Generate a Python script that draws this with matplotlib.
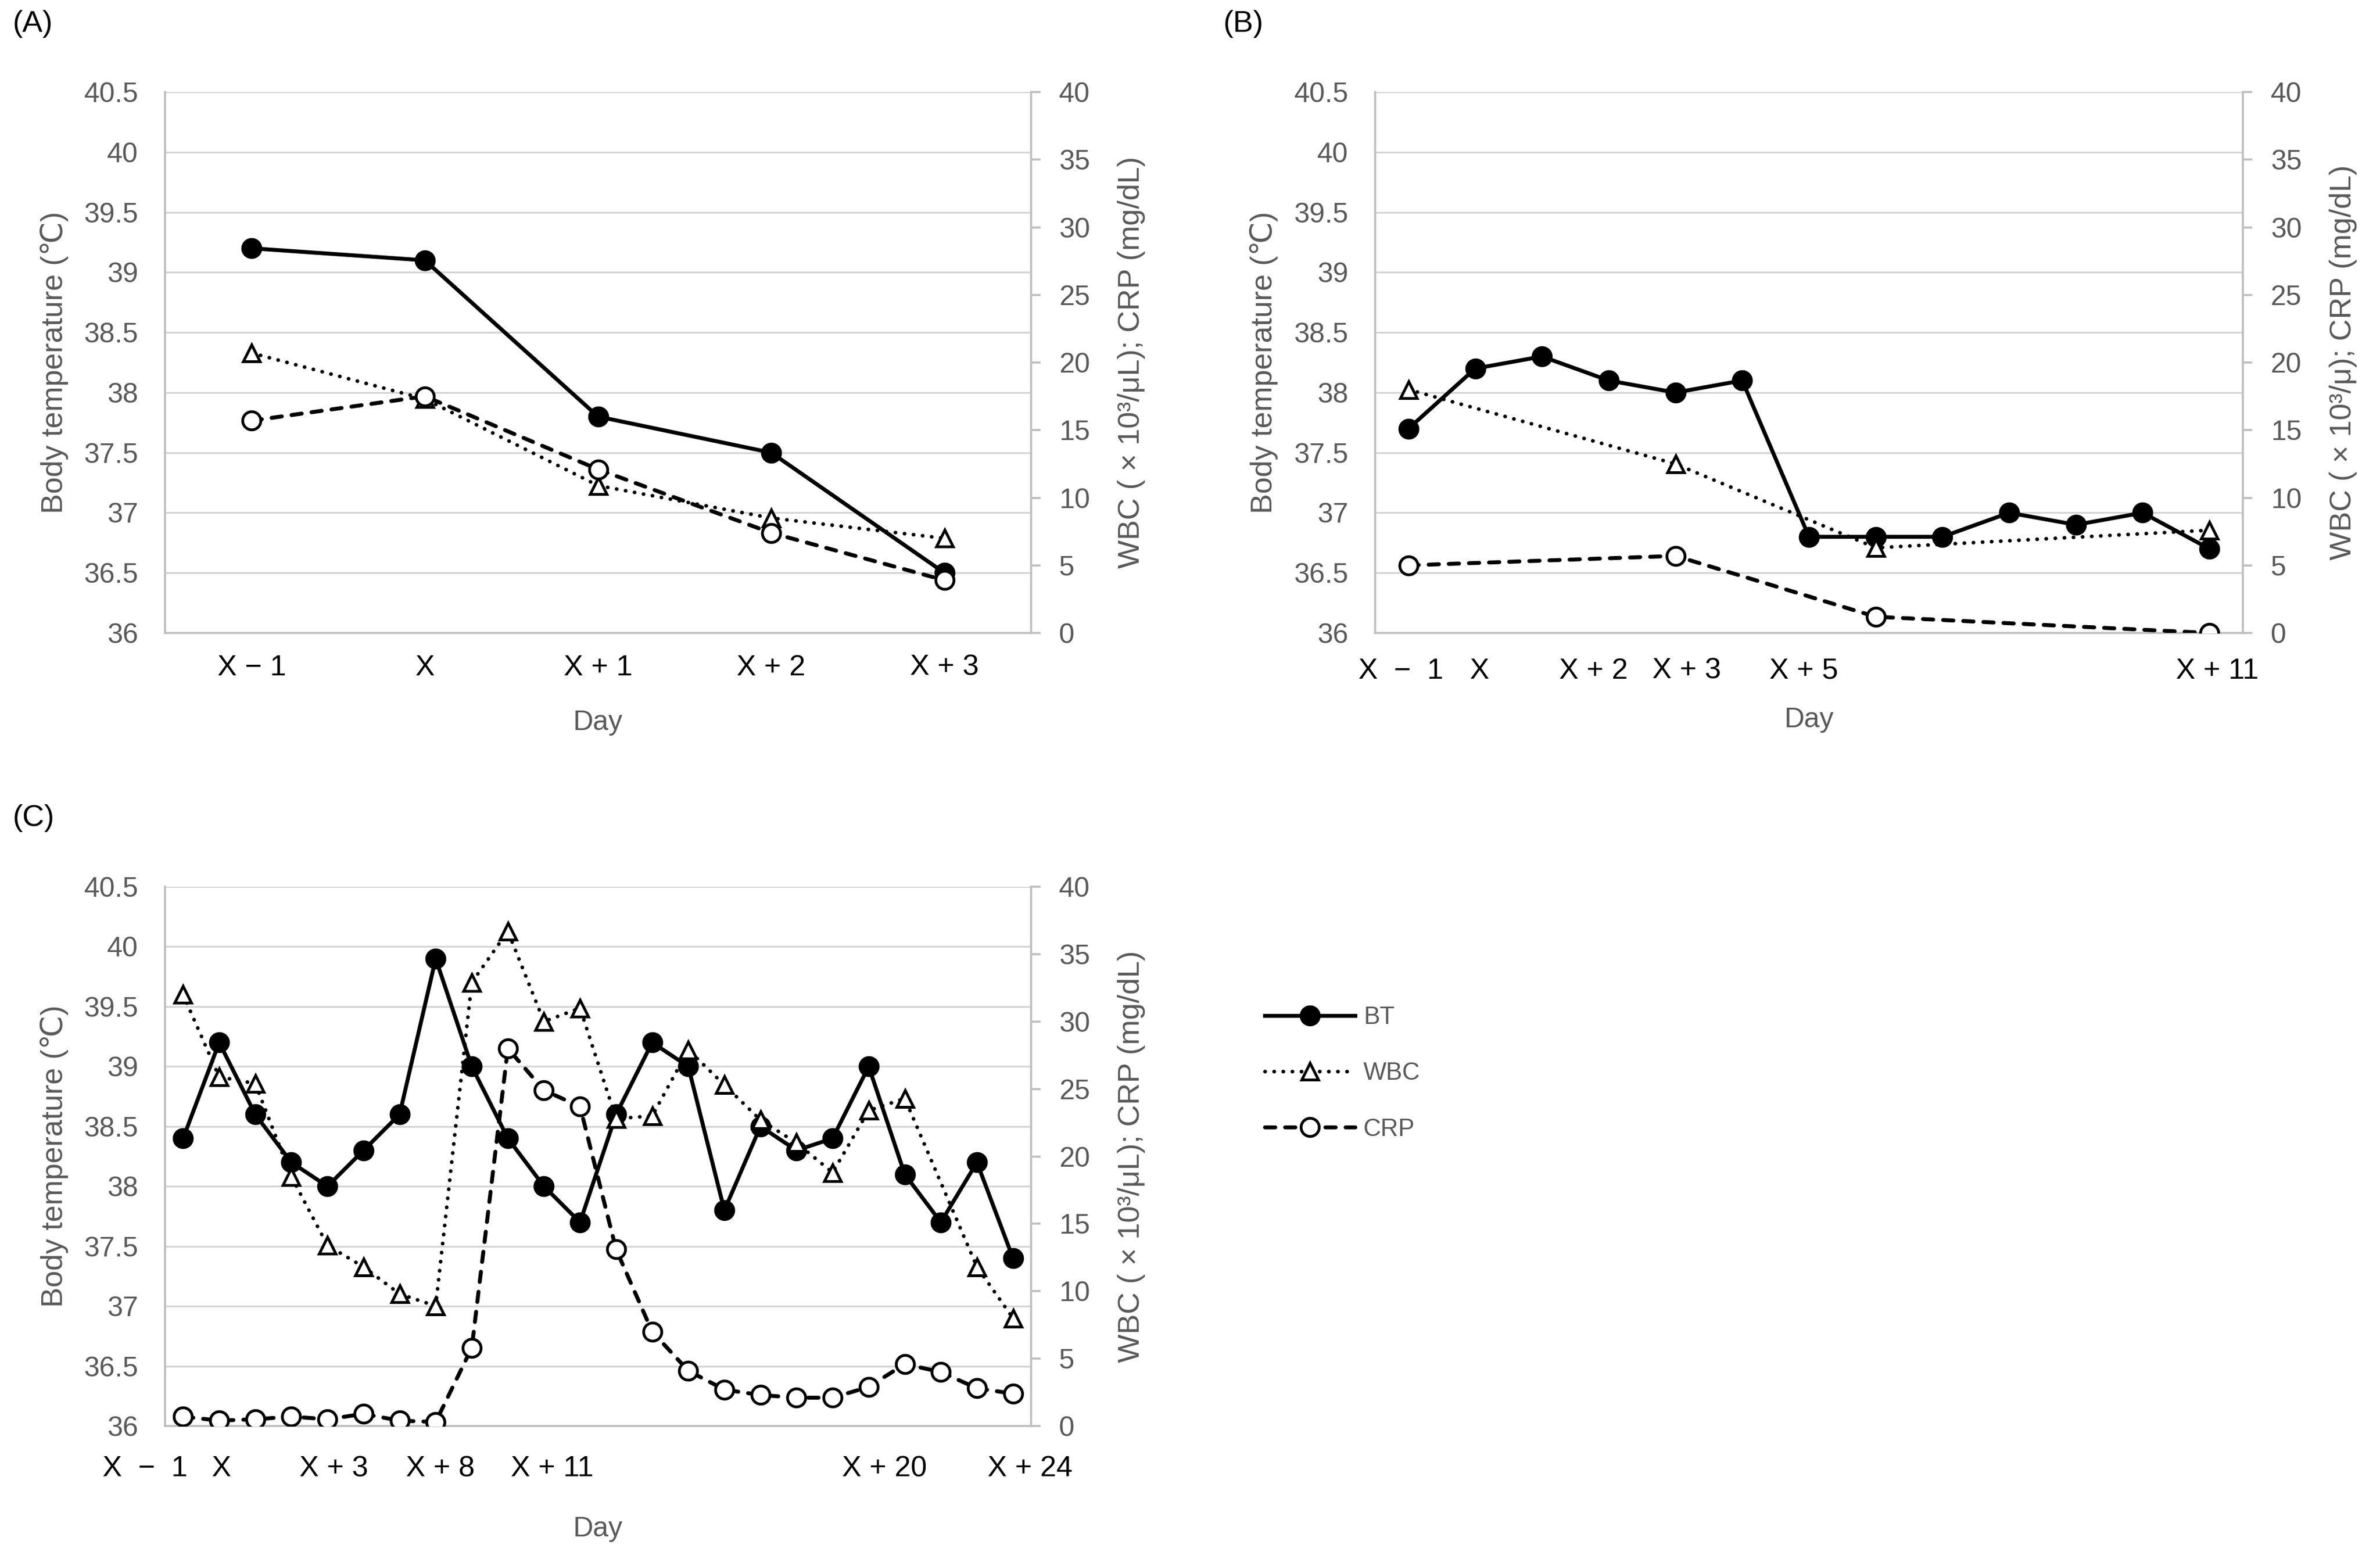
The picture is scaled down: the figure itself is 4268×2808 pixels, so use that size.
import numpy as np
import matplotlib
matplotlib.use('Agg')
import matplotlib.pyplot as plt
import matplotlib.transforms as mtransforms

plt.rcParams['font.family'] = ['Liberation Sans', 'DejaVu Sans']

nan = np.nan
GREY = '#595959'
AXIS = '#bfbfbf'

# ---- data ----
# (A)
ticks_a = [0, 1, 2, 3, 4]
labels_a = ['X − 1', 'X', 'X + 1', 'X + 2', 'X + 3']
bt_a = [39.2, 39.1, 37.8, 37.5, 36.5]
wbc_a = [20.7, 17.3, 10.9, 8.5, 7.0]
crp_a = [15.7, 17.5, 12.1, 7.4, 3.9]

# (B) day X-1 .. X+11
ticks_b = [0, 1, 3, 4, 6, 12]
labels_b = ['X  −  1', 'X', 'X + 2', 'X + 3', 'X + 5', 'X + 11']
bt_b = [37.7, 38.2, 38.3, 38.1, 38.0, 38.1, 36.8, 36.8, 36.8, 37.0, 36.9, 37.0, 36.7]
wbc_b = [18.0, nan, nan, nan, 12.5, nan, nan, 6.3, nan, nan, nan, nan, 7.6]
crp_b = [5.0, nan, nan, nan, 5.7, nan, nan, 1.2, nan, nan, nan, nan, 0.0]

# (C)
ticks_c = [0, 1, 4, 7, 10, 19, 23]
labels_c = ['X  −  1', 'X', 'X + 3', 'X + 8', 'X + 11', 'X + 20', 'X + 24']
bt_c = [38.4, 39.2, 38.6, 38.2, 38.0, 38.3, 38.6, 39.9, 39.0, 38.4, 38.0, 37.7,
        38.6, 39.2, 39.0, 37.8, 38.5, 38.3, 38.4, 39.0, 38.1, 37.7, 38.2, 37.4]
wbc_c = [32.0, 25.9, 25.4, 18.5, 13.4, 11.8, 9.8, 8.9, 32.9, 36.7, 30.0, 31.0,
         22.8, 23.0, 27.9, 25.3, 22.7, 21.0, 18.8, 23.4, 24.3, nan, 11.8, 8.0]
crp_c = [0.7, 0.4, 0.5, 0.7, 0.5, 0.9, 0.4, 0.3, 5.8, 28.0, 24.9, 23.7,
         13.1, 7.0, 4.1, 2.7, 2.3, 2.1, 2.1, 2.9, 4.6, 4.0, 2.8, 2.4]

bt_ticks = [36, 36.5, 37, 37.5, 38, 38.5, 39, 39.5, 40, 40.5]
bt_tick_labels = ['36', '36.5', '37', '37.5', '38', '38.5', '39', '39.5', '40', '40.5']
lab_ticks = [0, 5, 10, 15, 20, 25, 30, 35, 40]

# small sideways nudges of the day labels (pixels), as placed in the original
nudge_a = [0, 0, 0, 0, 0]
nudge_b = [-14, 8, -27, 20, -9, 14]
nudge_c = [-68, 4, 11, 8, 15, 28, 30]

W, H = 4268, 2808
fig = plt.figure(figsize=(W / 300, H / 300), dpi=300)


def px_rect(l, t, r, b):
    return [l / W, 1 - b / H, (r - l) / W, (b - t) / H]


def panel(rect, bt, wbc, crp, tpos, tlab, nudge, right_label, tick_pad, day_y):
    ax = fig.add_axes(rect)
    ax2 = ax.twinx()
    n = len(bt)
    x = np.arange(n)
    bt = np.array(bt)
    wbc = np.array(wbc)
    crp = np.array(crp)

    ax.set_xlim(-0.5, n - 0.5)
    ax.set_ylim(36, 40.5)
    ax2.set_ylim(0, 40)
    ax.set_yticks(bt_ticks)
    ax.set_yticklabels(bt_tick_labels)
    ax2.set_yticks(lab_ticks)
    ax.set_xticks(tpos)
    ax.set_xticklabels(tlab)

    ax.yaxis.grid(True, color='#d4d4d4', lw=0.75)
    ax.set_axisbelow(True)

    for s in ['top', 'right']:
        ax.spines[s].set_visible(False)
    for s in ['top', 'left', 'bottom']:
        ax2.spines[s].set_visible(False)
    for sp in [ax.spines['left'], ax.spines['bottom'], ax2.spines['right']]:
        sp.set_color(AXIS)
        sp.set_linewidth(0.9)

    ax.tick_params(axis='y', length=0, pad=11.5, labelsize=12, labelcolor=GREY)
    ax.tick_params(axis='x', length=0, pad=tick_pad, labelsize=12.5, labelcolor='black')
    ax2.tick_params(axis='y', length=4, width=0.9, color=AXIS, pad=8,
                    labelsize=12, labelcolor=GREY)
    for lbl, dx in zip(ax.get_xticklabels(), nudge):
        off = mtransforms.ScaledTranslation(dx / 300, 0, fig.dpi_scale_trans)
        lbl.set_transform(lbl.get_transform() + off)

    l_bt, = ax.plot(x, bt, color='black', lw=1.7, marker='o', ms=8,
                    mfc='black', mec='black', label='BT')
    m = ~np.isnan(wbc)
    l_wbc, = ax2.plot(x[m], wbc[m], color='black', lw=1.6, ls=(0, (0.05, 2.4)),
                      dash_capstyle='round', marker='^', ms=7, mfc='white',
                      mec='black', mew=1.2, label='WBC')
    m = ~np.isnan(crp)
    l_crp, = ax2.plot(x[m], crp[m], color='black', lw=1.7, ls=(0, (2.6, 2.5)),
                      dash_capstyle='round', marker='o', ms=7.8, mfc='white',
                      mec='black', mew=1.2, label='CRP')

    ax.text(-0.128, 0.5, 'Body temperature (℃)', transform=ax.transAxes,
            rotation=90, ha='center', va='center', fontsize=13, color=GREY)
    ax.text(1.116, 0.5, right_label, transform=ax.transAxes,
            rotation=90, ha='center', va='center', fontsize=13, color=GREY)
    ax.text(0.5, day_y, 'Day', transform=ax.transAxes, ha='center',
            va='center', fontsize=12, color=GREY)
    return ax, [l_bt, l_wbc, l_crp]


ax_a, _ = panel(px_rect(296, 165, 1849, 1135), bt_a, wbc_a, crp_a, ticks_a, labels_a,
                nudge_a, 'WBC ( × 10³/μL); CRP (mg/dL)', 9, -0.166)
ax_b, _ = panel(px_rect(2466, 165, 4022, 1135), bt_b, wbc_b, crp_b, ticks_b, labels_b,
                nudge_b, 'WBC ( × 10³/μ); CRP (mg/dL)', 10.5, -0.161)
ax_c, handles = panel(px_rect(296, 1590, 1849, 2557), bt_c, wbc_c, crp_c, ticks_c,
                      labels_c, nudge_c, 'WBC ( × 10³/μL); CRP (mg/dL)', 12.5, -0.191)

fig.text(23 / W, 1 - 43 / H, '(A)', ha='left', va='center', fontsize=13)
fig.text(2194 / W, 1 - 43 / H, '(B)', ha='left', va='center', fontsize=13)
fig.text(23 / W, 1 - 1467 / H, '(C)', ha='left', va='center', fontsize=13)

fig.legend(handles, ['BT', 'WBC', 'CRP'], loc='center left',
           bbox_to_anchor=(2268 / W, 1 - 1925 / H), frameon=False,
           handlelength=3.7, handletextpad=0.35, labelspacing=1.35,
           borderpad=0, borderaxespad=0, fontsize=10.5, labelcolor=GREY)

fig.savefig('out.png', dpi=300)
